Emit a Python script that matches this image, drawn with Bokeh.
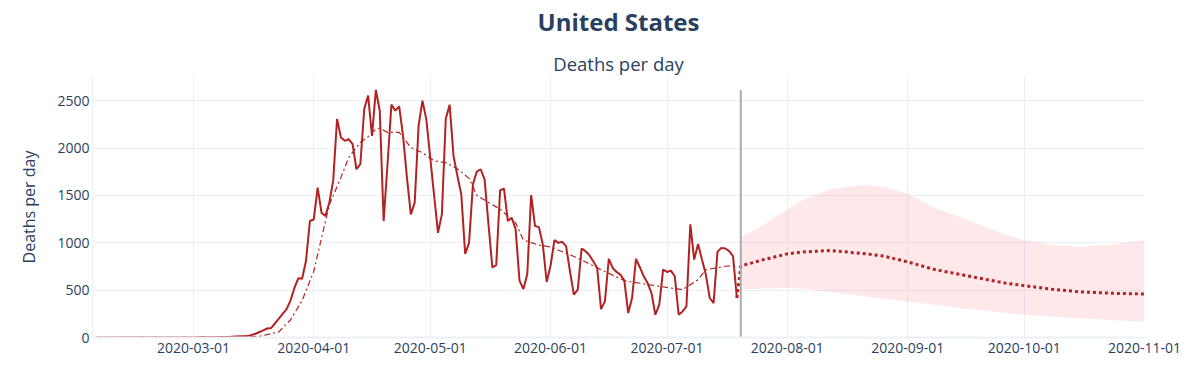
import pandas as pd
from bokeh.plotting import figure
from bokeh.models import Range1d, FixedTicker, DatetimeTickFormatter, Title
from bokeh.embed import file_html
from bokeh.resources import INLINE

# ---------------- data ----------------
start_date = "2020-02-05"
deaths = (
    [0] * 24 + [1] +                                   # Feb 5 - Feb 29
    [1, 0, 5, 2, 3, 2, 2, 4, 4,                         # Mar 1 - 9
     5, 8, 10, 12, 12, 15, 28, 40, 58, 75, 95,          # Mar 10 - 20
     100, 150, 200, 250, 300, 390, 520, 625, 620, 810, 1230] +  # Mar 21 - 31
    [1246, 1582, 1317, 1282, 1423, 1653, 2306, 2111, 2076, 2094,
     2041, 1776, 1829, 2412, 2553, 2129, 2613, 2394, 1229, 1829,
     2458, 2394, 2440, 2129, 1688, 1300, 1423, 2235, 2500, 2300] +  # April
    [1900, 1500, 1105, 1300, 2306, 2458, 1917, 1706, 1511, 883,
     999, 1617, 1751, 1776, 1670, 1200, 741, 763, 1554, 1571,
     1229, 1264, 1141, 600, 512, 671, 1504, 1176, 1165, 982, 586] +  # May
    [760, 1028, 999, 1010, 964, 699, 452, 505, 939, 911,
     869, 805, 734, 300, 381, 829, 734, 692, 664, 600,
     258, 417, 829, 742, 646, 575, 469, 240, 346, 717] +  # June
    [692, 706, 646, 240, 275, 328, 1194, 823, 988, 823,
     664, 417, 364, 904, 946, 939, 911, 858, 417]          # July 1 - 19
)

smooth_dates = ["2020-02-05", "2020-03-10", "2020-03-18", "2020-03-23", "2020-03-26",
                "2020-03-29", "2020-04-01", "2020-04-03", "2020-04-05", "2020-04-08",
                "2020-04-10", "2020-04-13", "2020-04-15", "2020-04-17", "2020-04-18",
                "2020-04-20", "2020-04-23", "2020-04-26", "2020-04-29", "2020-05-02",
                "2020-05-05", "2020-05-08", "2020-05-11", "2020-05-13", "2020-05-16",
                "2020-05-19", "2020-05-23", "2020-05-25", "2020-05-29", "2020-06-01",
                "2020-06-08", "2020-06-13", "2020-06-20", "2020-06-29", "2020-07-05",
                "2020-07-09", "2020-07-11", "2020-07-16", "2020-07-19"]
smooth_vals = [0, 2, 12, 60, 185,
               390, 700, 1050, 1400, 1690,
               1900, 2060, 2120, 2200, 2210,
               2165, 2165, 2005, 1950, 1865,
               1845, 1780, 1680, 1500, 1425,
               1355, 1210, 1030, 975, 955,
               840, 735, 600, 540, 505,
               610, 715, 752, 760]

fc_dates = ["2020-07-20", "2020-07-26", "2020-08-01", "2020-08-05", "2020-08-12",
            "2020-08-21", "2020-08-26", "2020-09-01", "2020-09-08", "2020-09-17",
            "2020-09-26", "2020-10-01", "2020-10-09", "2020-10-16", "2020-10-24",
            "2020-11-01"]
fc_mean = [755, 823, 883, 903, 918, 885, 858, 798, 717, 646, 575, 547, 505, 480, 466, 459]
fc_upper = [1052, 1194, 1353, 1448, 1564, 1610, 1589, 1518, 1370, 1229, 1088, 1028, 971, 957, 982, 1028]
fc_lower = [505, 516, 522, 515, 482, 434, 410, 381, 345, 302, 260, 240, 218, 200, 183, 169]

x_tick_labels = ["2020-03-01", "2020-04-01", "2020-05-01", "2020-06-01",
                 "2020-07-01", "2020-08-01", "2020-09-01", "2020-10-01", "2020-11-01"]
y_ticks = [0, 500, 1000, 1500, 2000, 2500]

title_text = "United States"
subtitle_text = "Deaths per day"
y_label_text = "Deaths per day"

# ---------------- build ----------------
obs_dates = pd.date_range(start=start_date, periods=len(deaths), freq="D")
s_dates = pd.to_datetime(smooth_dates)
f_dates = pd.to_datetime(fc_dates)

TEXT = "#2a3f5f"
GRID = "#EBF0F8"
RED = "#B22222"
FONT = "Open Sans"

W, H = 1192, 364
BL, BR, BT, BB = 92, 48, 76, 27

p = figure(width=W, height=H, x_axis_type="datetime",
           x_range=Range1d(pd.Timestamp("2020-02-04"), pd.Timestamp("2020-11-01")),
           y_range=Range1d(0, 2755),
           output_backend="svg", toolbar_location=None, title=None,
           min_border_left=BL, min_border_right=BR, min_border_top=BT, min_border_bottom=BB)
p.outline_line_color = None
p.background_fill_color = "white"

# band
p.varea(x=f_dates, y1=fc_lower, y2=fc_upper, fill_color="#ff1a33", fill_alpha=0.1)

# observed
p.line(obs_dates, deaths, line_color=RED, line_width=2)
# smoothed
p.line(s_dates, smooth_vals, line_color=RED, line_width=1.2, line_dash="6 3 2 3")
# forecast
p.line([obs_dates[-1]] + list(f_dates), [deaths[-1]] + fc_mean,
       line_color=RED, line_width=3, line_dash="3 3")
# vertical marker at forecast start
p.segment(x0=[f_dates[0]], y0=[0], x1=[f_dates[0]], y1=[max(deaths)],
          line_color="#aaaaaa", line_width=2)

# axes
tick_ms = [pd.Timestamp(d).timestamp() * 1000 for d in x_tick_labels]
p.xaxis.ticker = FixedTicker(ticks=tick_ms)
fmt = "%Y-%m-%d"
p.xaxis.formatter = DatetimeTickFormatter(milliseconds=fmt, seconds=fmt, minsec=fmt, minutes=fmt,
                                          hourmin=fmt, hours=fmt, days=fmt, months=fmt, years=fmt)
p.yaxis.ticker = FixedTicker(ticks=y_ticks)
for ax in (p.xaxis, p.yaxis):
    ax.major_tick_line_color = None
    ax.minor_tick_line_color = None
    ax.major_tick_out = 0
    ax.major_tick_in = 0
    ax.minor_tick_out = 0
    ax.minor_tick_in = 0
    ax.major_label_text_font = FONT
    ax.major_label_text_font_size = "14px"
    ax.major_label_text_color = TEXT
p.xaxis.axis_line_color = GRID
p.xaxis.axis_line_width = 2
p.yaxis.axis_line_color = GRID
p.xaxis.major_label_standoff = 5
p.yaxis.major_label_standoff = 3
p.yaxis.axis_label = y_label_text
p.yaxis.axis_label_text_font = FONT
p.yaxis.axis_label_text_font_size = "16px"
p.yaxis.axis_label_text_font_style = "normal"
p.yaxis.axis_label_text_color = TEXT
p.yaxis.axis_label_standoff = 14

p.xgrid.grid_line_color = GRID
p.ygrid.grid_line_color = GRID

# titles (first added sits closest to the frame)
sub = Title(text=subtitle_text, align="center", vertical_align="bottom",
            text_font=FONT, text_font_size="18.5px", text_font_style="normal",
            text_color=TEXT, standoff=1)
p.add_layout(sub, "above")
spacer = Title(text=" ", align="center", vertical_align="bottom",
               text_font=FONT, text_font_size="1px", text_color="white", standoff=6)
p.add_layout(spacer, "above")
main = Title(text=title_text, align="center", vertical_align="bottom",
             text_font=FONT, text_font_size="24px", text_font_style="bold",
             text_color=TEXT, standoff=4)
p.add_layout(main, "above")

open("out.html", "w").write(file_html(p, INLINE))
